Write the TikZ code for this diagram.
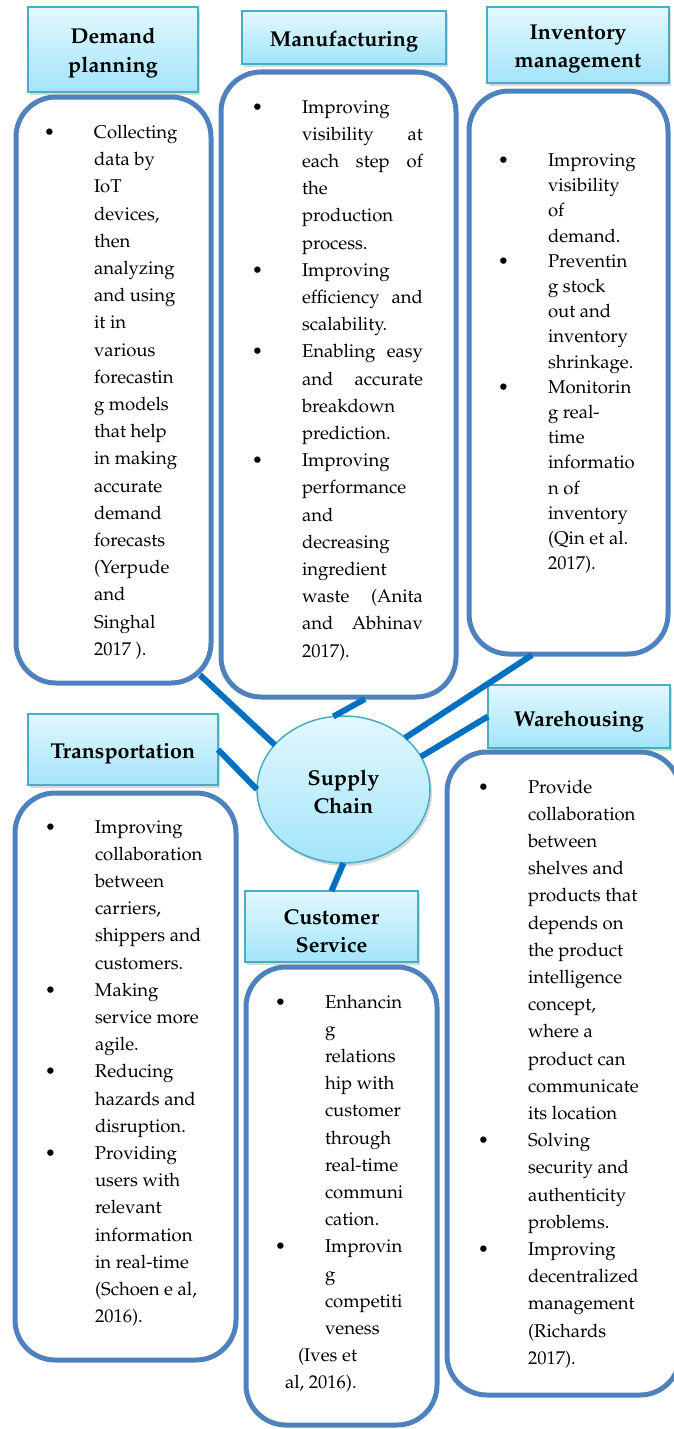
\documentclass[tikz,border=0pt]{standalone}
\usepackage[T1]{fontenc}
\renewcommand{\rmdefault}{ppl}
\usetikzlibrary{shapes.geometric,shadows}
\definecolor{bodyblue}{RGB}{79,129,189}
\definecolor{hdrline}{RGB}{75,172,198}
\definecolor{hdrtop}{RGB}{226,248,254}
\definecolor{hdrbot}{RGB}{163,228,250}
\definecolor{linkblue}{RGB}{0,112,192}
\newcommand\bodyfont{\fontsize{18.5}{27.2}\selectfont}
\newcommand\hdrfont{\fontsize{21.5}{28.5}\selectfont\bfseries}
\newcommand\mytl[1]{\hbox{#1}}
\newcommand\mybl[1]{\hbox{\llap{\textbullet\hskip 39pt}#1}}
\newcommand\myjl[1]{\hbox to 121pt{#1}}
\newcommand\myblock[2]{\vtop{\baselineskip=#1pt\lineskiplimit=-100pt\lineskip=0pt #2}}
\tikzset{
  body/.style={draw=bodyblue, line width=5pt, rounded corners=40pt, inner sep=0, outer sep=0},
  hdr/.style={draw=hdrline, line width=1.5pt, top color=hdrtop, bottom color=hdrbot,
    drop shadow={opacity=0.3, shadow xshift=2pt, shadow yshift=-3pt},
    inner sep=0, outer sep=0},
  hdrtxt/.style={font=\hdrfont, align=center, inner sep=0, outer sep=0},
  txt/.style={inner sep=0, outer sep=0, anchor=base west, font=\bodyfont},
  link/.style={draw=linkblue, line width=6pt}
}
\begin{document}
\begin{tikzpicture}[x=1pt,y=-1pt]
\useasboundingbox (0,0) rectangle (674,1429);
% body boxes
\node[body, minimum width=195pt, minimum height=586pt] (dpbody) at (113.5,390) {};
\node[body, minimum width=235pt, minimum height=625pt] (mfbody) at (338.5,384.5) {};
\node[body, minimum width=199pt, minimum height=563pt] (imbody) at (568.5,372.5) {};
\node[body, minimum width=221pt, minimum height=567pt] (trbody) at (125.5,1076.5) {};
\node[body, minimum width=233pt, minimum height=643pt] (whbody) at (563.5,1073.5) {};
\node[body, minimum width=191pt, minimum height=458pt] (csbody) at (341.5,1196) {};
% headers
\node[hdr, minimum width=170pt, minimum height=85pt] (dp) at (113,49.5) {};
\node[hdr, minimum width=204pt, minimum height=53pt] (mf) at (344,37.5) {};
\node[hdr, minimum width=182pt, minimum height=76pt] (im) at (578,45) {};
\node[hdr, minimum width=190pt, minimum height=71pt] (tr) at (123,749.5) {};
\node[hdr, minimum width=182pt, minimum height=63pt] (wh) at (579,716.5) {};
\node[hdr, minimum width=173pt, minimum height=71pt] (cs) at (331.5,926.5) {};
% central ellipse
\node[hdr, ellipse, minimum width=173pt, minimum height=147pt] (sc) at (343.5,789.5) {};
% header texts
\node[hdrtxt] (dpl) at ([yshift=-3.5pt]dp.center) {Demand\\planning};
\node[hdrtxt] (mfl) at ([yshift=-4pt]mf.center) {Manufacturing};
\node[hdrtxt] (iml) at ([yshift=-4pt]im.center) {Inventory\\management};
\node[hdrtxt] (trl) at ([yshift=-4pt]tr.center) {Transportation};
\node[hdrtxt] (whl) at ([yshift=-4.5pt]wh.center) {Warehousing};
\node[hdrtxt] (csl) at ([yshift=-4.5pt]cs.center) {Customer\\Service};
\node[hdrtxt] (scl) at ([yshift=-2.5pt]sc.center) {Supply\\Chain};
% connector end points on the rounded body corners
\coordinate (dpend) at (200,675);
\coordinate (mfend) at (365,699);
\coordinate (imend) at (532,655);
\draw[link] (dpend) -- (sc.147);
\draw[link] (mfend) -- (sc.98);
\draw[link] (imend) -- (sc.40);
\draw[link] (wh.west) -- (sc.23);
\draw[link] (tr.east) -- (sc.180);
\draw[link] (sc.south) -- (cs.north);
% texts
\node[txt] (dpt) at (94,138.5) {\myblock{27.2}{\mybl{Collecting}\mytl{data by}\mytl{IoT}\mytl{devices,}\mytl{then}\mytl{analyzing}\mytl{and using}\mytl{it in}\mytl{various}\mytl{forecastin}\mytl{g models}\mytl{that help}\mytl{in making}\mytl{accurate}\mytl{demand}\mytl{forecasts}\mytl{(Yerpude}\mytl{and}\mytl{Singhal}\mytl{2017 ).}}};
\node[txt] (mft) at (302,113) {\myblock{27.2}{\mybl{Improving}\myjl{visibility\hfill at}\myjl{each\hfill step\hfill of}\mytl{the}\mytl{production}\mytl{process.}\mybl{Improving}\myjl{efficiency\hfill and}\mytl{scalability.}\mybl{\myjl{Enabling\hfill easy}}\myjl{and\hfill accurate}\mytl{breakdown}\mytl{prediction.}\mybl{Improving}\mytl{performance}\mytl{and}\mytl{decreasing}\mytl{ingredient}\myjl{waste\hfill (Anita}\myjl{and\hfill Abhinav}\mytl{2017).}}};
\node[txt] (imt) at (548,166.5) {\myblock{25.2}{\mybl{Improving}\mytl{visibility}\mytl{of}\mytl{demand.}\mybl{Preventin}\mytl{g stock}\mytl{out and}\mytl{inventory}\mytl{shrinkage.}\mybl{Monitorin}\mytl{g real-}\mytl{time}\mytl{informatio}\mytl{n of}\mytl{inventory}\mytl{(Qin et al.}\mytl{2017).}}};
\node[txt] (trt) at (95,833) {\myblock{27.2}{\mybl{Improving}\mytl{collaboration}\mytl{between}\mytl{carriers,}\mytl{shippers and}\mytl{customers.}\mybl{Making}\mytl{service more}\mytl{agile.}\mybl{Reducing}\mytl{hazards and}\mytl{disruption.}\mybl{Providing}\mytl{users with}\mytl{relevant}\mytl{information}\mytl{in real-time}\mytl{(Schoen e al,}\mytl{2016).}}};
\node[txt] (wht) at (528,793) {\myblock{27.2}{\mybl{Provide}\mytl{collaboration}\mytl{between}\mytl{shelves and}\mytl{products that}\mytl{depends on}\mytl{the product}\mytl{intelligence}\mytl{concept,}\mytl{where a}\mytl{product can}\mytl{communicate}\mytl{its location}\mybl{Solving}\mytl{security and}\mytl{authenticity}\mytl{problems.}\mybl{Improving}\mytl{decentralized}\mytl{management}\mytl{(Richards}\mytl{2017).}}};
\node[txt] (cst) at (325,1008) {\myblock{27.2}{\mybl{Enhancin}\mytl{g}\mytl{relations}\mytl{hip with}\mytl{customer}\mytl{through}\mytl{real-time}\mytl{communi}\mytl{cation.}\mybl{Improvin}\mytl{g}\mytl{competiti}\mytl{veness}\hbox{\hskip-27pt (Ives et}\hbox{\hskip-40pt al, 2016).}}};
\end{tikzpicture}
\end{document}
